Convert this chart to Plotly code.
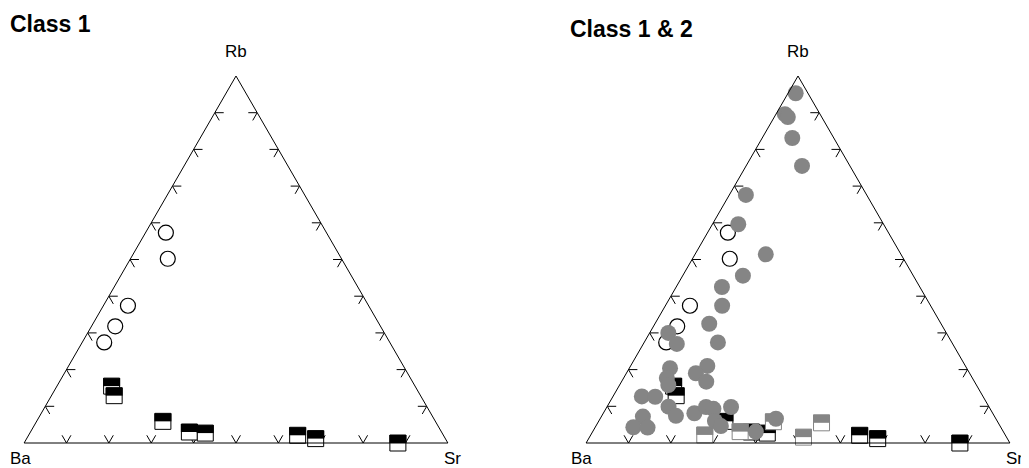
import plotly.graph_objects as go

# ---- data: proportions (Rb, Ba, Sr) ----
# Class 1 open circles
c1_circle_rb = [0.573, 0.502, 0.374, 0.318, 0.274]
c1_circle_ba = [0.379, 0.410, 0.568, 0.626, 0.674]
c1_circle_sr = [0.048, 0.088, 0.058, 0.056, 0.052]

# Class 1 half-filled squares
c1_square_rb = [0.155, 0.129, 0.059, 0.030, 0.027, 0.021, 0.012, 0.000]
c1_square_ba = [0.716, 0.723, 0.643, 0.595, 0.559, 0.344, 0.306, 0.118]
c1_square_sr = [0.129, 0.148, 0.298, 0.375, 0.414, 0.635, 0.682, 0.882]

# Class 2 filled grey circles
c2_circle_rb = [0.953, 0.896, 0.888, 0.831, 0.755, 0.676, 0.596, 0.514, 0.456,
                0.425, 0.374, 0.325, 0.300, 0.270, 0.274, 0.210, 0.190, 0.167,
                0.204, 0.177, 0.158, 0.127, 0.126, 0.099, 0.074, 0.072, 0.043,
                0.042, 0.081, 0.098, 0.093, 0.060, 0.046, 0.098, 0.031, 0.066]
c2_circle_ba = [0.029, 0.083, 0.080, 0.098, 0.113, 0.285, 0.343, 0.319, 0.402,
                0.467, 0.492, 0.547, 0.656, 0.651, 0.552, 0.609, 0.646, 0.633,
                0.700, 0.721, 0.727, 0.805, 0.774, 0.756, 0.751, 0.830, 0.867,
                0.834, 0.704, 0.668, 0.653, 0.666, 0.659, 0.609, 0.584, 0.519]
c2_circle_sr = [0.018, 0.021, 0.032, 0.071, 0.132, 0.039, 0.061, 0.167, 0.142,
                0.108, 0.134, 0.128, 0.044, 0.079, 0.174, 0.181, 0.164, 0.200,
                0.096, 0.102, 0.115, 0.068, 0.100, 0.145, 0.175, 0.098, 0.090,
                0.124, 0.215, 0.234, 0.254, 0.274, 0.295, 0.293, 0.385, 0.415]

# Class 2 half-filled grey squares
c2_square_rb = [0.022, 0.031, 0.058, 0.016, 0.055]
c2_square_ba = [0.709, 0.621, 0.529, 0.479, 0.417]
c2_square_sr = [0.269, 0.348, 0.413, 0.505, 0.528]

tick_values = [0.1, 0.2, 0.3, 0.4, 0.5, 0.6, 0.7, 0.8, 0.9]

# ---- styling ----
OFF = 8                      # page body margin of the html page
W, H = 1029 - OFF, 468 - OFF  # figure size so the page fits the window
TRI_H = 367.0                # triangle height in px
TICK_LEN = 0.021             # tick stub length (fraction of side)
SQ = 16                      # square marker size (px)
GREY = "#858585"
FONT = "Liberation Sans, Arial, Helvetica, sans-serif"


def px_x(sx):
    return (sx - OFF) / W


def px_y(sy):
    return 1 - (sy - OFF) / H


fig = go.Figure()


def tick_trace(subplot):
    a, b, c = [], [], []
    for t in tick_values:
        # bottom edge (Rb = 0): V shape
        a += [TICK_LEN, 0, TICK_LEN, None]
        b += [1 - t - TICK_LEN, 1 - t, 1 - t, None]
        c += [t, t, t - TICK_LEN, None]
        # left edge (Sr = 0)
        a += [t, t, t - TICK_LEN, None]
        b += [1 - t - TICK_LEN, 1 - t, 1 - t, None]
        c += [TICK_LEN, 0, TICK_LEN, None]
        # right edge (Ba = 0)
        a += [t, t, t - TICK_LEN, None]
        b += [TICK_LEN, 0, TICK_LEN, None]
        c += [1 - t - TICK_LEN, 1 - t, 1 - t, None]
    return go.Scatterternary(a=a, b=b, c=c, mode="lines", subplot=subplot,
                             line=dict(color="black", width=1),
                             hoverinfo="skip", cliponaxis=False)


def half_squares(rb, ba, sr, color, subplot):
    shift = (SQ / 4) / TRI_H
    base = go.Scatterternary(
        a=rb, b=ba, c=sr, mode="markers", subplot=subplot, cliponaxis=False,
        marker=dict(symbol="square", size=SQ, color="white",
                    line=dict(color=color, width=1)))
    top = go.Scatterternary(
        a=[v + shift for v in rb], b=[v - shift / 2 for v in ba],
        c=[v - shift / 2 for v in sr], mode="markers", subplot=subplot,
        cliponaxis=False,
        marker=dict(symbol="line-ew", size=(SQ + 1) / 1.4, color=color,
                    line=dict(color=color, width=SQ / 2)))
    return [base, top]


for sp, with_c2 in (("ternary", False), ("ternary2", True)):
    fig.add_trace(tick_trace(sp))
    fig.add_trace(go.Scatterternary(
        a=c1_circle_rb, b=c1_circle_ba, c=c1_circle_sr, mode="markers",
        subplot=sp, cliponaxis=False,
        marker=dict(symbol="circle-open", size=15, color="black",
                    line=dict(width=1.2))))
    for tr in half_squares(c1_square_rb, c1_square_ba, c1_square_sr, "black", sp):
        fig.add_trace(tr)
    if with_c2:
        for tr in half_squares(c2_square_rb, c2_square_ba, c2_square_sr, GREY, sp):
            fig.add_trace(tr)
        fig.add_trace(go.Scatterternary(
            a=c2_circle_rb, b=c2_circle_ba, c=c2_circle_sr, mode="markers",
            subplot=sp, cliponaxis=False,
            marker=dict(symbol="circle", size=16, color=GREY,
                        line=dict(width=0))))

axis = dict(showline=True, linecolor="black", linewidth=1, showgrid=False,
            ticks="", showticklabels=False, title=dict(text=""))
y_dom = [px_y(443), px_y(443 - TRI_H)]
fig.update_layout(
    width=W, height=H, showlegend=False,
    margin=dict(l=0, r=0, t=0, b=0),
    paper_bgcolor="white",
    font=dict(family=FONT, color="black"),
    ternary=dict(sum=1, bgcolor="white", domain=dict(x=[px_x(24), px_x(448)], y=y_dom),
                 aaxis=axis, baxis=axis, caxis=axis),
    ternary2=dict(sum=1, bgcolor="white", domain=dict(x=[px_x(586), px_x(1010)], y=y_dom),
                  aaxis=axis, baxis=axis, caxis=axis),
)

labels = [
    ("Rb", 236, 51), ("Ba", 20, 458), ("Sr", 452, 458),
    ("Rb", 798, 51), ("Ba", 581, 458), ("Sr", 1014, 458),
]
for txt, sx, sy in labels:
    fig.add_annotation(text=txt, x=px_x(sx), y=px_y(sy), xref="paper", yref="paper",
                       xanchor="center", yanchor="middle", showarrow=False,
                       font=dict(size=17, family=FONT, color="black"))

for txt, sx, sy in (("Class 1", 8, 24), ("Class 1 & 2", 568, 29)):
    fig.add_annotation(text="<b>" + txt + "</b>", x=px_x(sx), y=px_y(sy),
                       xref="paper", yref="paper", xanchor="left", yanchor="middle",
                       showarrow=False, font=dict(size=23, family=FONT, color="black"))

fig.write_html("out.html")
